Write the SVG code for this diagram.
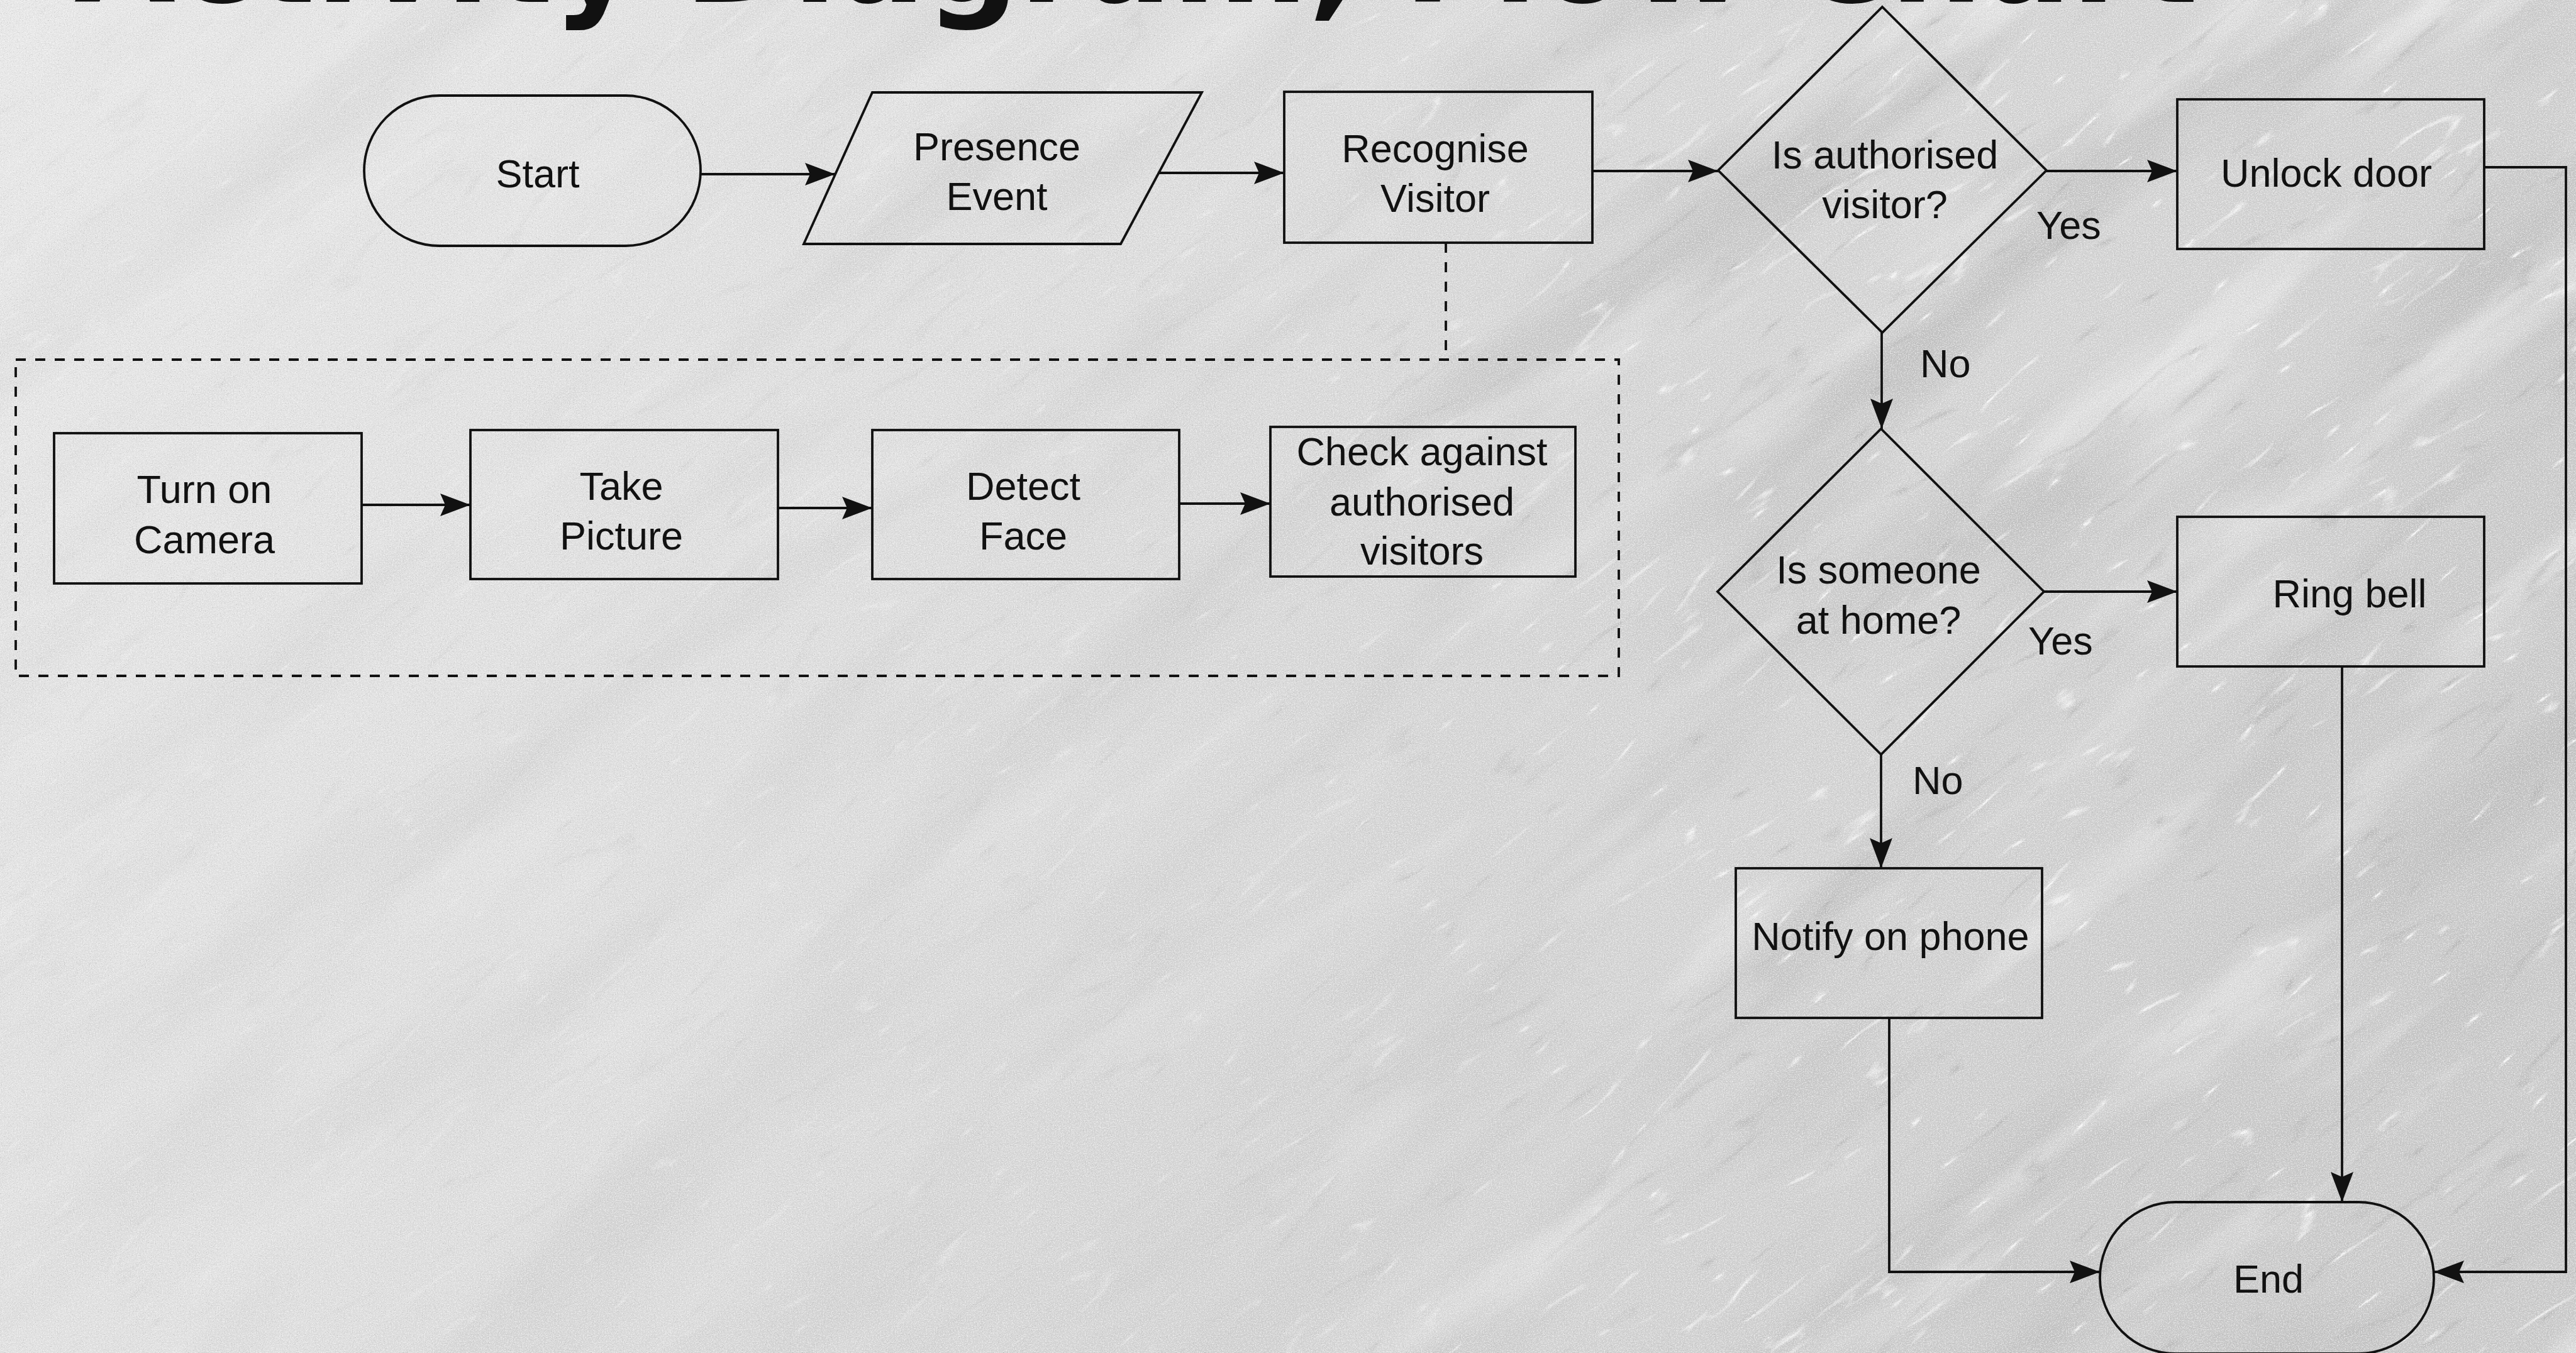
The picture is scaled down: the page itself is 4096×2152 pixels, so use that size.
<svg xmlns="http://www.w3.org/2000/svg" width="4096" height="2152" viewBox="0 0 4096 2152">
  <defs>
    <style>
      .shape{fill:none;stroke:#111;stroke-width:3.8}
      .edge{fill:none;stroke:#111;stroke-width:3.8}
      .dashed{stroke-dasharray:16 15}
      .lbl{font-family:"Liberation Sans",Arial,sans-serif;font-size:63px;fill:#111;text-anchor:middle}
      .tag{font-family:"Liberation Sans",Arial,sans-serif;font-size:63px;fill:#111}
      .title{font-family:"DejaVu Sans",sans-serif;font-weight:bold;font-size:208px;fill:#111}
    </style>
    <marker id="arrow" markerUnits="userSpaceOnUse" markerWidth="50" markerHeight="38" viewBox="0 0 50 38" refX="48" refY="19" orient="auto">
      <path d="M0,1 L48,19 L0,37 L8,19 Z" fill="#111"/>
    </marker>
    <!-- fine speckle of the stone surface -->
    <filter id="speckDark" x="0" y="0" width="4096" height="2152" filterUnits="userSpaceOnUse">
      <feTurbulence type="fractalNoise" baseFrequency="0.8" numOctaves="2" seed="4"/>
      <feColorMatrix type="matrix" values="0 0 0 0 0.3  0 0 0 0 0.3  0 0 0 0 0.3  -2.6 0 0 0 1.1"/>
    </filter>
    <filter id="speckLight" x="0" y="0" width="4096" height="2152" filterUnits="userSpaceOnUse">
      <feTurbulence type="fractalNoise" baseFrequency="0.55" numOctaves="2" seed="11"/>
      <feColorMatrix type="matrix" values="0 0 0 0 1  0 0 0 0 1  0 0 0 0 1  2.4 0 0 0 -1.05"/>
    </filter>
    <!-- cloudy patches, stretched along the grain -->
    <filter id="patchDark" x="-10%" y="-10%" width="120%" height="120%">
      <feTurbulence type="fractalNoise" baseFrequency="0.0012 0.006" numOctaves="5" seed="15"/>
      <feColorMatrix type="matrix" values="0 0 0 0 0.5  0 0 0 0 0.5  0 0 0 0 0.5  3.0 0 0 0 -1.45"/>
    </filter>
    <filter id="patchLight" x="-10%" y="-10%" width="120%" height="120%">
      <feTurbulence type="fractalNoise" baseFrequency="0.0016 0.008" numOctaves="5" seed="29"/>
      <feColorMatrix type="matrix" values="0 0 0 0 1  0 0 0 0 1  0 0 0 0 1  -3.0 0 0 0 1.35"/>
    </filter>
    <!-- thin veins -->
    <filter id="veinDark" x="-10%" y="-10%" width="120%" height="120%">
      <feTurbulence type="turbulence" baseFrequency="0.002 0.009" numOctaves="4" seed="21"/>
      <feColorMatrix type="matrix" values="0 0 0 0 0.38  0 0 0 0 0.38  0 0 0 0 0.38  -7 0 0 0 0.8"/>
    </filter>
    <filter id="veinLight" x="-10%" y="-10%" width="120%" height="120%">
      <feTurbulence type="turbulence" baseFrequency="0.0025 0.012" numOctaves="4" seed="8"/>
      <feColorMatrix type="matrix" values="0 0 0 0 1  0 0 0 0 1  0 0 0 0 1  -8 0 0 0 0.9"/>
    </filter>
    <linearGradient id="shade" x1="0" y1="0" x2="1" y2="0.3">
      <stop offset="0" stop-color="#ffffff" stop-opacity="0.45"/>
      <stop offset="0.45" stop-color="#ffffff" stop-opacity="0.2"/>
      <stop offset="0.7" stop-color="#ffffff" stop-opacity="0"/>
      <stop offset="1" stop-color="#000000" stop-opacity="0.05"/>
    </linearGradient>
    <linearGradient id="heavyFade" x1="0" y1="0" x2="1" y2="0">
      <stop offset="0" stop-color="#fff" stop-opacity="0.2"/>
      <stop offset="0.5" stop-color="#fff" stop-opacity="0.4"/>
      <stop offset="0.68" stop-color="#fff" stop-opacity="0.9"/>
      <stop offset="1" stop-color="#fff" stop-opacity="1"/>
    </linearGradient>
    <mask id="rightHeavy" maskUnits="userSpaceOnUse" x="0" y="0" width="4096" height="2152">
      <rect width="4096" height="2152" fill="url(#heavyFade)"/>
    </mask>
  </defs>

  <!-- marble background -->
  <g id="background">
    <rect width="4096" height="2152" fill="#d2d2d2"/>
    <rect width="4096" height="2152" fill="url(#shade)"/>
    <g mask="url(#rightHeavy)">
      <g transform="rotate(-38 2048 1076)">
        <rect x="-900" y="-1500" width="5900" height="5150" filter="url(#patchDark)" opacity="0.8"/>
        <rect x="-900" y="-1500" width="5900" height="5150" filter="url(#patchLight)" opacity="0.45"/>
        <rect x="-900" y="-1500" width="5900" height="5150" filter="url(#veinDark)" opacity="0.6"/>
        <rect x="-900" y="-1500" width="5900" height="5150" filter="url(#veinLight)" opacity="0.9"/>
      </g>
    </g>
    <rect width="4096" height="2152" filter="url(#speckDark)" opacity="0.55"/>
    <rect width="4096" height="2152" filter="url(#speckLight)" opacity="0.65"/>
  </g>

  <text class="title" x="118" y="3">Activity Diagram, Flow Chart</text>

  <!-- connectors -->
  <g id="connectors">
    <path class="edge" d="M1114,277 H1328" marker-end="url(#arrow)"/>
    <path class="edge" d="M1842,275 H2042" marker-end="url(#arrow)"/>
    <path class="edge" d="M2532,272 H2732" marker-end="url(#arrow)"/>
    <path class="edge" d="M3254,272 H3462" marker-end="url(#arrow)"/>
    <path class="edge" d="M3950,266 H4080 V2023 H3870" marker-end="url(#arrow)"/>
    <path class="edge" d="M2992,529 V682" marker-end="url(#arrow)"/>
    <path class="edge" d="M3250,941 H3462" marker-end="url(#arrow)"/>
    <path class="edge" d="M2991,1200 V1381" marker-end="url(#arrow)"/>
    <path class="edge" d="M3724,1060 V1912" marker-end="url(#arrow)"/>
    <path class="edge" d="M3004,1619 V2023 H3339" marker-end="url(#arrow)"/>
    <path class="edge dashed" d="M2299,386 V572"/>
    <path class="edge" d="M575,803 H748" marker-end="url(#arrow)"/>
    <path class="edge" d="M1237,808 H1387" marker-end="url(#arrow)"/>
    <path class="edge" d="M1875,801 H2020" marker-end="url(#arrow)"/>
    <text class="tag" x="3238" y="380">Yes</text>
    <text class="tag" x="3053" y="600">No</text>
    <text class="tag" x="3225" y="1041">Yes</text>
    <text class="tag" x="3041" y="1263">No</text>
  </g>

  <!-- main flow -->
  <g id="start">
    <rect class="shape" x="579" y="152" width="535" height="239" rx="119.5"/>
    <text class="lbl" x="855" y="298">Start</text>
  </g>
  <g id="presence-event">
    <polygon class="shape" points="1387,147 1911,147 1782,388 1278,388"/>
    <text class="lbl" x="1585" y="255">Presence</text>
    <text class="lbl" x="1585" y="334">Event</text>
  </g>
  <g id="recognise-visitor">
    <rect class="shape" x="2042" y="146" width="490" height="240"/>
    <text class="lbl" x="2282" y="258">Recognise</text>
    <text class="lbl" x="2282" y="337">Visitor</text>
  </g>
  <g id="is-authorised">
    <polygon class="shape" points="2993,11 3254,271 2993,529 2732,271"/>
    <text class="lbl" x="2997" y="268">Is authorised</text>
    <text class="lbl" x="2997" y="347">visitor?</text>
  </g>
  <g id="unlock-door">
    <rect class="shape" x="3462" y="158" width="488" height="238"/>
    <text class="lbl" x="3699" y="297">Unlock door</text>
  </g>
  <g id="someone-home">
    <polygon class="shape" points="2991,682 3250,941 2991,1200 2731,941"/>
    <text class="lbl" x="2987" y="928">Is someone</text>
    <text class="lbl" x="2987" y="1008">at home?</text>
  </g>
  <g id="ring-bell">
    <rect class="shape" x="3462" y="822" width="488" height="238"/>
    <text class="lbl" x="3736" y="966">Ring bell</text>
  </g>
  <g id="notify-phone">
    <rect class="shape" x="2760" y="1381" width="487" height="238"/>
    <text class="lbl" x="3006" y="1511">Notify on phone</text>
  </g>
  <g id="end">
    <rect class="shape" x="3339" y="1912" width="531" height="241" rx="120"/>
    <text class="lbl" x="3607" y="2056">End</text>
  </g>

  <!-- recognition sub-process -->
  <g id="recognition-detail">
    <rect class="shape dashed" x="25" y="572" width="2549" height="503"/>
  </g>
  <g id="turn-on-camera">
    <rect class="shape" x="86" y="689" width="489" height="239"/>
    <text class="lbl" x="325" y="800">Turn on</text>
    <text class="lbl" x="325" y="880">Camera</text>
  </g>
  <g id="take-picture">
    <rect class="shape" x="748" y="684" width="489" height="237"/>
    <text class="lbl" x="988" y="795">Take</text>
    <text class="lbl" x="988" y="874">Picture</text>
  </g>
  <g id="detect-face">
    <rect class="shape" x="1387" y="684" width="488" height="237"/>
    <text class="lbl" x="1627" y="795">Detect</text>
    <text class="lbl" x="1627" y="874">Face</text>
  </g>
  <g id="check-authorised">
    <rect class="shape" x="2020" y="679" width="485" height="238"/>
    <text class="lbl" x="2261" y="740">Check against</text>
    <text class="lbl" x="2261" y="820">authorised</text>
    <text class="lbl" x="2261" y="898">visitors</text>
  </g>
</svg>
